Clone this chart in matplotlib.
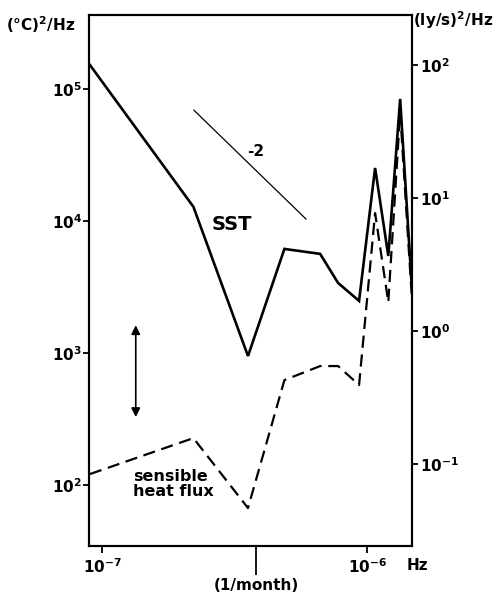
import matplotlib
matplotlib.use("Agg")
import matplotlib.pyplot as plt

plt.rcParams['font.family'] = ['DejaVu Sans']
plt.rcParams['mathtext.default'] = 'regular'

# frequencies (Hz) shared by both spectra
freq = [9.0e-8, 2.21e-7, 3.55e-7, 4.87e-7, 6.64e-7, 7.76e-7, 9.31e-7,
        1.07e-6, 1.20e-6, 1.33e-6, 1.47e-6]
# SST spectrum, (degC)^2/Hz, left axis
sst = [1.52e5, 1.28e4, 948, 6140, 5630, 3390, 2480, 2.52e4, 5430, 8.4e4, 3270]
# sensible heat flux spectrum, (ly/s)^2/Hz, right axis
heat_flux = [0.0837, 0.156, 0.0465, 0.426, 0.543, 0.543, 0.391, 7.67, 1.64, 44.0, 1.85]

# reference slope line (-2)
slope_f = [2.22e-7, 5.87e-7]
slope_y = [6.9e4, 1.035e4]

# confidence arrow
arrow_f = 1.34e-7
arrow_lo, arrow_hi = 327, 1622

one_month = 1 / (30.44 * 86400)

fig = plt.figure(figsize=(5.01, 5.99), dpi=100)
ax = fig.add_axes([89 / 501, 1 - 546 / 599, 323 / 501, 531 / 599])
ax2 = ax.twinx()

ax.set_xscale('log')
ax.set_yscale('log')
ax2.set_yscale('log')
ax.set_xlim(8.93e-8, 1.474e-6)
ax.set_ylim(34.5, 3.63e5)
ax2.set_ylim(0.0241, 236.6)

ax.plot(freq, sst, color='black', lw=1.9, solid_joinstyle='miter')
ax2.plot(freq, heat_flux, color='black', lw=1.6, dashes=(5.5, 3))
ax.plot(slope_f, slope_y, color='black', lw=0.9)

ax.annotate('', xy=(arrow_f, arrow_hi), xytext=(arrow_f, arrow_lo),
            arrowprops=dict(arrowstyle='<|-|>', color='black', lw=1.2,
                            mutation_scale=13, shrinkA=0, shrinkB=0))

ax.text(3.78e-7, 3.33e4, '-2', fontsize=11, fontweight='bold', ha='center', va='center')
ax.text(3.09e-7, 9330, 'SST', fontsize=14, fontweight='bold', ha='center', va='center')
ax.text(1.31e-7, 101, 'sensible\nheat flux', fontsize=11.5, fontweight='bold',
        ha='left', va='center', linespacing=1.0)

# axes styling
for a in (ax, ax2):
    for sp in a.spines.values():
        sp.set_linewidth(1.5)

ax.set_xticks([1e-7, 1e-6], ['$10^{-7}$', '$10^{-6}$'])
ax.set_xticks([one_month], ['(1/month)'], minor=True)
ax.tick_params(axis='x', which='major', direction='out', length=5, width=1.3,
               labelsize=11, pad=3)
ax.tick_params(axis='x', which='minor', direction='out', length=21, width=1.3,
               labelsize=11, pad=2)

ax.set_yticks([1e2, 1e3, 1e4, 1e5], ['$10^{2}$', '$10^{3}$', '$10^{4}$', '$10^{5}$'])
ax.set_yticks([], minor=True)
ax.tick_params(axis='y', which='major', direction='out', length=4, width=1.3,
               labelsize=11, pad=1)

ax2.set_yticks([1e-1, 1e0, 1e1, 1e2], ['$10^{-1}$', '$10^{0}$', '$10^{1}$', '$10^{2}$'])
ax2.set_yticks([], minor=True)
ax2.tick_params(axis='y', which='major', direction='out', length=4, width=1.3,
                labelsize=11, pad=2)

for lbl in ax.get_xticklabels(which='both') + ax.get_yticklabels() + ax2.get_yticklabels():
    lbl.set_fontweight('bold')

fig.text(407 / 501, 1 - 566 / 599, 'Hz', fontsize=11, fontweight='bold', ha='left', va='center')
fig.text(6 / 501, 1 - 25 / 599, '(°C)$^{2}$/Hz', fontsize=11, fontweight='bold',
         ha='left', va='center')
fig.text(413 / 501, 1 - 20 / 599, '(ly/s)$^{2}$/Hz', fontsize=11, fontweight='bold',
         ha='left', va='center')

fig.savefig('out.png', dpi=100)
